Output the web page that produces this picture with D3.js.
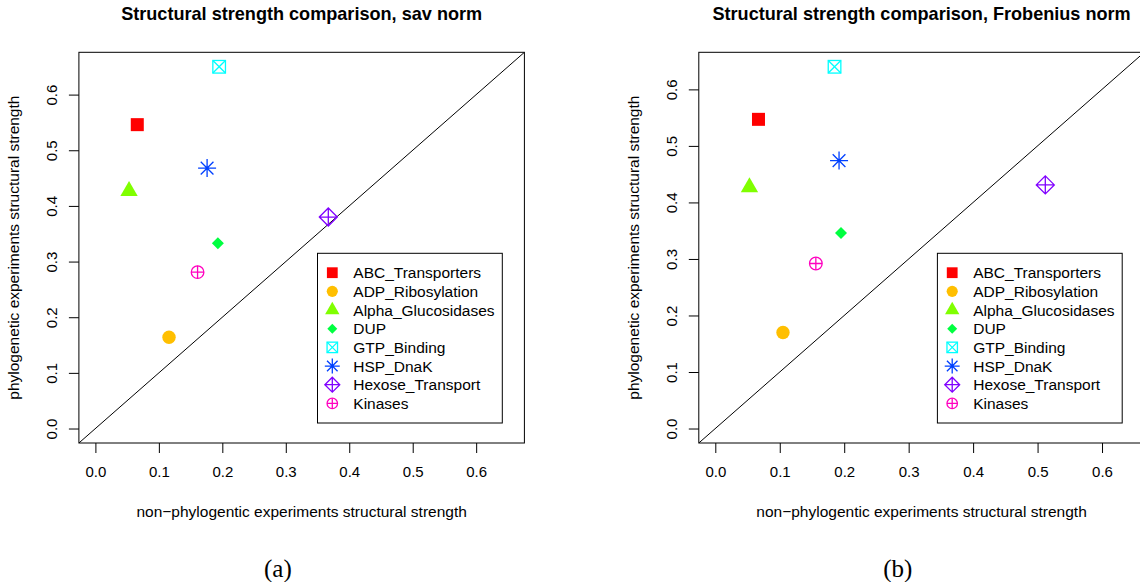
<!DOCTYPE html>
<html>
<head>
<meta charset="utf-8">
<script src="https://cdn.jsdelivr.net/npm/d3@7"></script>
<style>
  body { margin: 0; background: #fff; }
  text { font-family: "Liberation Sans", Arial, Helvetica, sans-serif; }
</style>
</head>
<body>
<div id="chart"></div>
<script>
// groups (legend order)
var groups = ["ABC_Transporters", "ADP_Ribosylation", "Alpha_Glucosidases", "DUP",
              "GTP_Binding", "HSP_DnaK", "Hexose_Transport", "Kinases"];
// R rainbow(8)
var groupColors = ["#FF0000", "#FFBF00", "#80FF00", "#00FF40", "#00FFFF", "#0040FF", "#8000FF", "#FF00BF"];
// R pch used for each group
var groupPch = [15, 16, 17, 18, 7, 8, 9, 10];

// panel (a): sav norm
var savNonPhylo = [0.066, 0.116, 0.053, 0.193, 0.195, 0.176, 0.367, 0.161];
var savPhylo    = [0.546, 0.164, 0.427, 0.333, 0.650, 0.468, 0.380, 0.281];
// panel (b): Frobenius norm
var frobNonPhylo = [0.067, 0.105, 0.053, 0.195, 0.185, 0.192, 0.512, 0.156];
var frobPhylo    = [0.547, 0.170, 0.427, 0.346, 0.640, 0.474, 0.431, 0.292];

var tickValues = [0, 0.1, 0.2, 0.3, 0.4, 0.5, 0.6];
var titles = ["Structural strength comparison, sav norm", "Structural strength comparison, Frobenius norm"];
var captions = ["(a)", "(b)"];
var xTitle = "non\u2212phylogentic experiments structural strength";
var yTitle = "phylogenetic experiments structural strength";

var width = 1140, height = 582;
var plotW = 445.5, plotH = 390.7, plotTop = 52.3;

var svg = d3.select("#chart").append("svg")
    .attr("width", width)
    .attr("height", height);

// draw an R style plotting symbol
function pchSymbol(g, pch, col, k) {
  var sw = 1.3;
  if (pch == 15) {
    var s = 6.5 * k;
    g.append("rect").attr("x", -s).attr("y", -s).attr("width", 2 * s).attr("height", 2 * s).attr("fill", col);
  } else if (pch == 16) {
    g.append("circle").attr("r", 6.7 * k).attr("fill", col);
  } else if (pch == 17) {
    var r = 10 * k;
    g.append("path").attr("fill", col)
      .attr("d", "M0," + (-r) + "L" + (r * Math.sqrt(3) / 2) + "," + (r / 2) + "L" + (-r * Math.sqrt(3) / 2) + "," + (r / 2) + "Z");
  } else if (pch == 18) {
    var d = 6 * k;
    g.append("path").attr("fill", col)
      .attr("d", "M0," + (-d) + "L" + d + ",0L0," + d + "L" + (-d) + ",0Z");
  } else if (pch == 7) {
    var s = 6.3 * k;
    g.append("rect").attr("x", -s).attr("y", -s).attr("width", 2 * s).attr("height", 2 * s)
      .attr("fill", "none").attr("stroke", col).attr("stroke-width", sw);
    g.append("path").attr("stroke", col).attr("stroke-width", sw)
      .attr("d", "M" + (-s) + "," + (-s) + "L" + s + "," + s + "M" + (-s) + "," + s + "L" + s + "," + (-s));
  } else if (pch == 8) {
    var r = 9 * k, q = r * Math.SQRT1_2;
    g.append("path").attr("stroke", col).attr("stroke-width", sw)
      .attr("d", "M" + (-r) + ",0L" + r + ",0M0," + (-r) + "L0," + r +
                 "M" + (-q) + "," + (-q) + "L" + q + "," + q + "M" + (-q) + "," + q + "L" + q + "," + (-q));
  } else if (pch == 9) {
    var d = 9 * k;
    g.append("path").attr("fill", "none").attr("stroke", col).attr("stroke-width", sw)
      .attr("d", "M0," + (-d) + "L" + d + ",0L0," + d + "L" + (-d) + ",0Z M" + (-d) + ",0L" + d + ",0M0," + (-d) + "L0," + d);
  } else if (pch == 10) {
    var r = 6.3 * k;
    g.append("circle").attr("r", r).attr("fill", "none").attr("stroke", col).attr("stroke-width", sw);
    g.append("path").attr("stroke", col).attr("stroke-width", sw)
      .attr("d", "M" + (-r) + ",0L" + r + ",0M0," + (-r) + "L0," + r);
  }
}

function drawPanel(idx, left, xs, ys) {
  var maxV = d3.max(xs.concat(ys));
  var pad = maxV * 0.04;
  var x = d3.scaleLinear().domain([-pad, maxV + pad]).range([0, plotW]);
  var y = d3.scaleLinear().domain([-pad, maxV + pad]).range([plotH, 0]);

  var g = svg.append("g").attr("transform", "translate(" + left + "," + plotTop + ")");

  g.append("clipPath").attr("id", "clip" + idx)
    .append("rect").attr("width", plotW).attr("height", plotH);

  // y = x reference line
  g.append("line")
    .attr("clip-path", "url(#clip" + idx + ")")
    .attr("x1", x(-pad)).attr("y1", y(-pad))
    .attr("x2", x(maxV + pad)).attr("y2", y(maxV + pad))
    .attr("stroke", "#000").attr("stroke-width", 1);

  // box
  g.append("rect").attr("width", plotW).attr("height", plotH)
    .attr("fill", "none").attr("stroke", "#000").attr("stroke-width", 1);

  // axes
  var xAxis = g.append("g").attr("transform", "translate(0," + plotH + ")")
    .call(d3.axisBottom(x).tickValues(tickValues).tickFormat(d3.format(".1f")).tickSize(10).tickPadding(13));
  var yAxis = g.append("g")
    .call(d3.axisLeft(y).tickValues(tickValues).tickFormat(d3.format(".1f")).tickSize(10).tickPadding(5));
  [xAxis, yAxis].forEach(function(a) {
    a.select(".domain").remove();
    a.selectAll("line").attr("stroke", "#000");
    a.selectAll("text").attr("font-size", 15).attr("fill", "#000")
      .style("font-family", '"Liberation Sans", Arial, sans-serif');
  });
  yAxis.selectAll(".tick text")
    .attr("text-anchor", "middle").attr("x", null).attr("dy", null)
    .attr("transform", "translate(-22,0) rotate(-90)");

  // points
  xs.forEach(function(v, i) {
    var p = g.append("g").attr("transform", "translate(" + x(v) + "," + y(ys[i]) + ")");
    pchSymbol(p, groupPch[i], groupColors[i], 1);
  });

  // titles
  g.append("text").attr("x", plotW / 2).attr("y", -32)
    .attr("text-anchor", "middle").attr("font-weight", "bold").attr("font-size", 18.1)
    .text(titles[idx]);
  g.append("text").attr("x", plotW / 2).attr("y", plotH + 74.5)
    .attr("text-anchor", "middle").attr("font-size", 15.5)
    .text(xTitle);
  g.append("text").attr("transform", "translate(-60," + (plotH / 2) + ") rotate(-90)")
    .attr("text-anchor", "middle").attr("font-size", 15.5)
    .text(yTitle);
  g.append("text").attr("x", 199).attr("y", plotH + 134)
    .attr("text-anchor", "middle").attr("font-size", 25)
    .style("font-family", '"Liberation Serif", "DejaVu Serif", serif')
    .text(captions[idx]);

  // legend
  var lg = g.append("g").attr("transform", "translate(238.6,201)");
  lg.append("rect").attr("width", 184.8).attr("height", 169.7)
    .attr("fill", "#fff").attr("stroke", "#000").attr("stroke-width", 1);
  groups.forEach(function(name, i) {
    var row = lg.append("g").attr("transform", "translate(0," + (19.4 + i * 18.67) + ")");
    var s = row.append("g").attr("transform", "translate(14.8,0)");
    pchSymbol(s, groupPch[i], groupColors[i], 0.83);
    row.append("text").attr("x", 35.8).attr("dy", "0.36em").attr("font-size", 15.5).text(name);
  });
}

drawPanel(0, 78.9, savNonPhylo, savPhylo);
drawPanel(1, 698.8, frobNonPhylo, frobPhylo);
</script>
</body>
</html>
